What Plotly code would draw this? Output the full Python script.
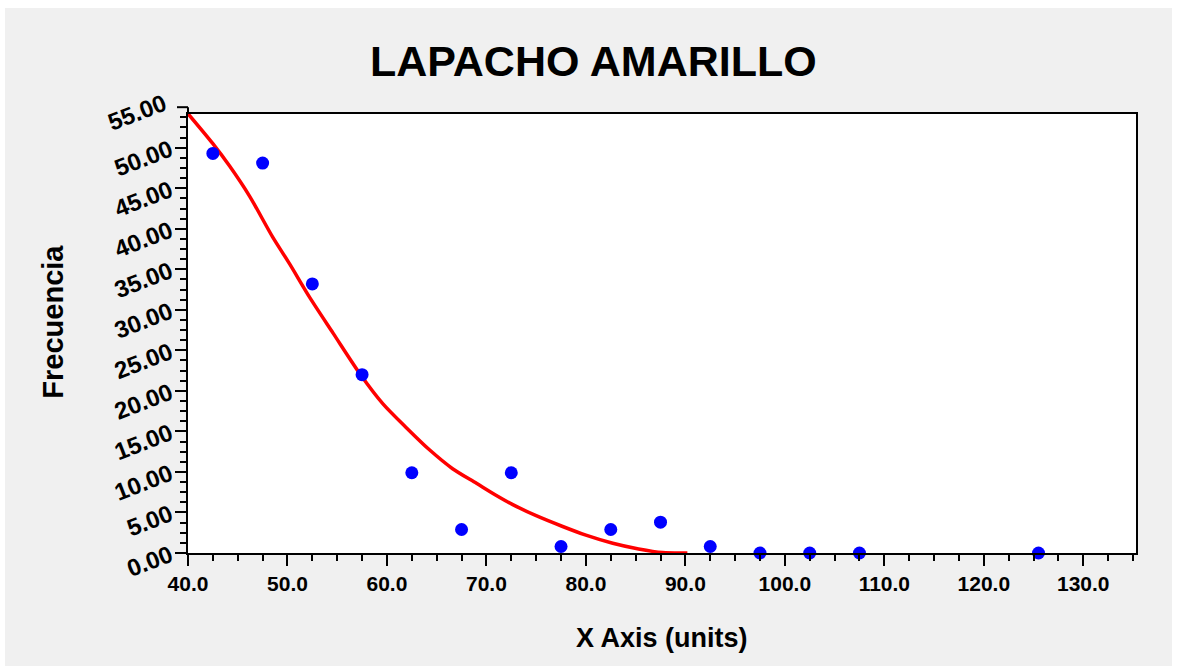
import plotly.graph_objects as go

# Observed frequencies
class_marks = [42.5, 47.5, 52.5, 57.5, 62.5, 67.5, 72.5, 77.5, 82.5, 87.5, 92.5, 97.5, 102.5, 107.5, 125.5]
frequencies = [49.3, 48.1, 33.2, 22.0, 9.9, 2.9, 9.9, 0.8, 2.9, 3.8, 0.8, 0.0, 0.0, 0.0, 0.0]

# Fitted curve
curve_x = [40.0, 42.5, 44.2, 46.2, 48.5, 50.2, 52.2, 54.6, 57.4, 59.6, 62.0, 64.3, 66.6,
           69.0, 71.0, 72.6, 75.0, 77.6, 80.0, 82.7, 85.3, 87.7, 90.2]
curve_y = [54.2, 50.5, 47.7, 44.0, 39.0, 35.7, 31.6, 27.1, 21.9, 18.4, 15.4, 12.7, 10.4,
           8.6, 7.1, 6.0, 4.6, 3.3, 2.2, 1.2, 0.5, 0.05, 0.0]

title_text = "LAPACHO AMARILLO"
x_title = "X Axis (units)"
y_title = "Frecuencia"

FONT = "Liberation Sans, Arial, sans-serif"

fig = go.Figure()
fig.add_trace(go.Scatter(x=curve_x, y=curve_y, mode="lines",
                         line=dict(color="#FF0000", width=3.5, shape="spline", smoothing=0.8),
                         hoverinfo="skip"))
fig.add_trace(go.Scatter(x=class_marks, y=frequencies, mode="markers",
                         marker=dict(color="#0000FF", size=13, line=dict(width=0)),
                         cliponaxis=False))

xtickfont = dict(family=FONT, size=21, color="black", weight="bold")
ytickfont = dict(family=FONT, size=24, color="black", weight="bold")

fig.update_layout(
    width=1167, height=660,
    margin=dict(l=183, r=36, t=106, b=115),
    paper_bgcolor="#F0F0F0",
    plot_bgcolor="white",
    showlegend=False,
    xaxis=dict(range=[40, 135.3], dtick=10, tick0=40, tickformat=".1f",
               showgrid=False, zeroline=False,
               showline=True, linecolor="black", linewidth=2, mirror=True,
               ticks="outside", ticklen=11, tickwidth=2, tickcolor="black",
               minor=dict(dtick=2.5, ticks="outside", ticklen=6, tickwidth=2, tickcolor="black"),
               tickfont=xtickfont),
    yaxis=dict(range=[0, 54.16], dtick=5, tick0=0, tickformat=".2f",
               showgrid=False, zeroline=False,
               showline=True, linecolor="black", linewidth=2, mirror=True,
               ticks="outside", ticklen=11, tickwidth=2, tickcolor="black",
               minor=dict(dtick=1.25, ticks="outside", ticklen=6, tickwidth=2, tickcolor="black"),
               tickfont=ytickfont, tickangle=-21),
    annotations=[
        dict(text=title_text, xref="paper", yref="paper", x=0.428, y=1.121,
             xanchor="center", yanchor="middle", showarrow=False,
             font=dict(family=FONT, size=43, color="black", weight="bold")),
        dict(text=x_title, xref="paper", yref="paper", x=0.5, y=0, yshift=-85,
             xanchor="center", yanchor="middle", showarrow=False,
             font=dict(family=FONT, size=27, color="black", weight="bold")),
        dict(text=y_title, xref="paper", yref="paper", x=0, xshift=-135, y=0.527,
             xanchor="center", yanchor="middle", showarrow=False, textangle=-90,
             font=dict(family=FONT, size=29, color="black", weight="bold")),
        dict(text="55.00", xref="paper", yref="paper", x=0, xshift=-16, y=1.0155,
             yshift=-5, xanchor="right", yanchor="middle", showarrow=False, textangle=-21,
             font=ytickfont),
    ],
    shapes=[
        dict(type="line", xref="paper", yref="paper", xsizemode="pixel", xanchor=0,
             x0=-11, x1=0, y0=1.0155, y1=1.0155, line=dict(color="black", width=2)),
        dict(type="line", xref="paper", yref="paper", x0=0, x1=0, y0=1.0, y1=1.0155,
             line=dict(color="black", width=2)),
    ],
)

fig.write_html("out.html",
               post_script="document.body.style.margin='8px 0 0 5px';"
                           "document.body.style.overflow='hidden';")
